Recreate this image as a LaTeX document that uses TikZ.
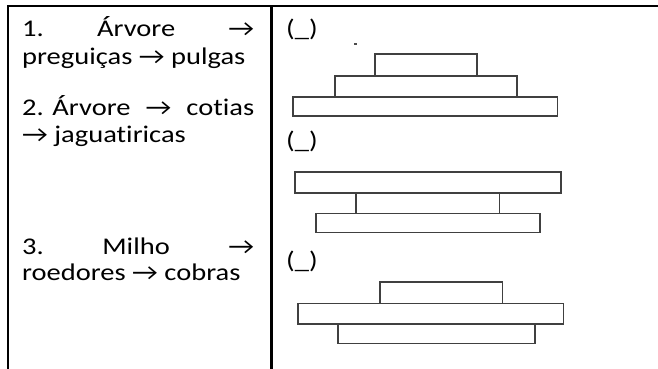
\documentclass[tikz,border=0pt]{standalone}
\usepackage{fontspec}
\setmainfont{Carlito}[Ligatures=NoCommon]
% text a little flatter than it is wide
\newcommand{\lowtext}[1]{\scalebox{1}[0.84]{#1}}
\newcommand{\spread}[1]{\makebox[232pt][s]{#1}}
\begin{document}
\begin{tikzpicture}[x=1pt, y=-1pt]
\tikzset{
  rule/.style={line width=2.2pt, draw=black},
  line/.style={anchor=base west, inner sep=0pt, font=\fontsize{28.5}{32}\selectfont},
  blank/.style={line},
  layer/.style={line width=1.6pt, draw=black!75},
}
\useasboundingbox (0,0) rectangle (658,369);
% table frame
\draw[rule] (8,369) -- (8,6) -- (658,6);
\draw[rule] (271.5,6) -- (271.5,369);
% food chains
\node[line] (c1a) at (22,37) {\lowtext{\spread{1.\hfill Árvore\hfill →}}};
\node[line] (c1b) at (22,64) {\lowtext{preguiças → pulgas}};
\node[line] (c2a) at (22,115) {\lowtext{\spread{2. Árvore\hfill →\hfill cotias}}};
\node[line] (c2b) at (22,142) {\lowtext{→ jaguatiricas}};
\node[line] (c3a) at (22,254) {\lowtext{\spread{3.\hfill Milho\hfill →}}};
\node[line] (c3b) at (22,280) {\lowtext{roedores → cobras}};
% blanks
\node[blank] (b1) at (286,37) {\lowtext{(\_)}};
\node[blank] (b2) at (286,148) {\lowtext{(\_)}};
\node[blank] (b3) at (286,268) {\lowtext{(\_)}};
\fill[black!70] (354,43) rectangle (356.5,45.5);
% pyramid 1
\draw[layer] (375,54.3) rectangle (476.7,75.7);
\draw[layer] (335,75.7) rectangle (516.7,96.7);
\draw[layer] (292.7,96.7) rectangle (557.3,116);
% pyramid 2
\draw[layer] (295,171.7) rectangle (561,192.7);
\draw[layer] (356,192.7) rectangle (499.3,213.3);
\draw[layer] (315.7,213.3) rectangle (540,232.3);
% pyramid 3
\draw[layer] (380,281.7) rectangle (502.3,303.3);
\draw[layer] (297.7,303.3) rectangle (563.3,324);
\draw[layer] (337.7,324) rectangle (535,343.3);
\end{tikzpicture}
\end{document}
